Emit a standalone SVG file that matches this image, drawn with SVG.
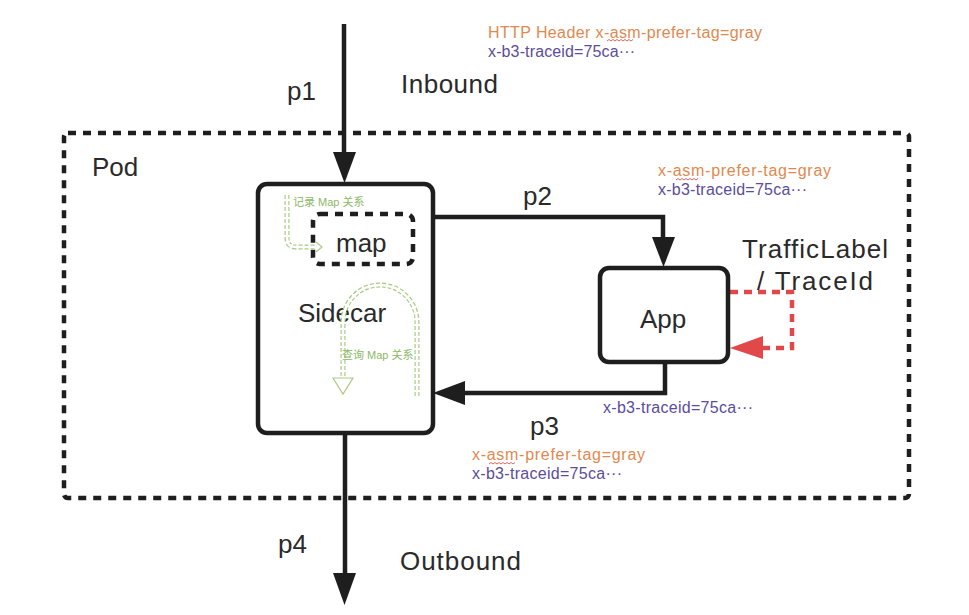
<svg xmlns="http://www.w3.org/2000/svg" width="969" height="615" viewBox="0 0 969 615">
<defs>
<style>
.lbl{font-family:"Liberation Sans","Noto Sans",Arial,sans-serif;font-size:26px;fill:#2a2a2a}
.sm{font-family:"Liberation Sans","Noto Sans",Arial,sans-serif;font-size:16px}
.or{fill:#e0894f}
.pu{fill:#5b4d9e}
.gt{font-family:"Liberation Sans","Noto Sans CJK SC",sans-serif;font-size:11px;fill:#8cb867}
.edge{fill:none;stroke:#1e1e1e;stroke-width:4.5}
.box{fill:#fff;stroke:#1e1e1e;stroke-width:4.5}
.dash{fill:none;stroke:#1e1e1e;stroke-width:4.5;stroke-dasharray:8 7}
.gout{fill:none;stroke:#a9cc86;stroke-width:5;stroke-dasharray:4 2}
.gin{fill:none;stroke:#fff;stroke-width:2.6}
.wavy{fill:none;stroke:#d9534f;stroke-width:0.9}
</style>
</defs>
<rect width="969" height="615" fill="#fff"/>
<g id="pod">
<rect x="64" y="133" width="845" height="365" rx="4" class="dash"/>
<text x="92" y="176" class="lbl">Pod</text>
</g>
<g id="connectors">
<g id="p1">
<line x1="344" y1="24" x2="344" y2="156" class="edge"/>
<polygon points="333,152 356,152 344.5,183" fill="#1e1e1e"/>
</g>
<g id="p2">
<polyline points="433,217 663,217 663,240" class="edge"/>
<polygon points="652,237 675,237 663.5,267" fill="#1e1e1e"/>
</g>
<g id="p3">
<polyline points="665,363 665,393 460,393" class="edge"/>
<polygon points="465,381 465,405 433,393" fill="#1e1e1e"/>
</g>
<g id="p4">
<line x1="345" y1="432" x2="345" y2="577" class="edge"/>
<polygon points="333,573 356,573 344.5,605" fill="#1e1e1e"/>
</g>
<g id="self-loop">
<polyline points="730,292 792,292 792,348 760,348" fill="none" stroke="#e0484a" stroke-width="4.5" stroke-dasharray="8 6"/>
<polygon points="763,336 763,359 730,348" fill="#e0484a"/>
</g>
</g>
<g id="sidecar">
<rect x="258" y="184" width="175" height="249" rx="9" class="box"/>
<text x="298" y="322" class="lbl">Sidecar</text>
</g>
<g id="map">
<rect x="313" y="214" width="100" height="50" rx="7" class="dash"/>
<text x="336" y="252" class="lbl">map</text>
</g>
<g id="app">
<rect x="600" y="268" width="128" height="94" rx="9" class="box"/>
<text x="640" y="328" class="lbl" font-size="27">App</text>
</g>
<g id="record">
<path d="M287,195 V238 Q287,247 296,247 H316" class="gout"/>
<path d="M287,195 V238 Q287,247 296,247 H316" class="gin"/>
<polyline points="316,242 322,247 316,252" fill="none" stroke="#a9cc86" stroke-width="1.2"/>
<text x="293" y="206" class="gt">记录 Map 关系</text>
</g>
<g id="query">
<path d="M417,396 V322 A37,37 0 0 0 343,322 V378" class="gout"/>
<path d="M417,396 V322 A37,37 0 0 0 343,322 V378" class="gin"/>
<polygon points="333,378 353,378 343,394" fill="#fff" stroke="#a9cc86" stroke-width="1.2"/>
<text x="342" y="359" class="gt">查询 Map 关系</text>
</g>
<g id="labels">
<text x="287" y="100" class="lbl">p1</text>
<text x="401" y="93" class="lbl" textLength="97">Inbound</text>
<text x="523" y="205" class="lbl">p2</text>
<text x="530" y="435" class="lbl">p3</text>
<text x="278" y="553" class="lbl">p4</text>
<text x="400" y="570" class="lbl" textLength="121">Outbound</text>
<text x="742" y="258" class="lbl" textLength="146">TrafficLabel</text>
<text x="757" y="290" class="lbl" textLength="116">/ TraceId</text>
</g>
<g id="headers">
<text x="488" y="38" class="sm or" textLength="274">HTTP Header x-asm-prefer-tag=gray</text>
<text x="488" y="57" class="sm pu" textLength="147">x-b3-traceid=75ca···</text>
<text x="658" y="176" class="sm or" textLength="173">x-asm-prefer-tag=gray</text>
<text x="658" y="195" class="sm pu" textLength="149">x-b3-traceid=75ca···</text>
<text x="603" y="413" class="sm pu" textLength="150">x-b3-traceid=75ca···</text>
<text x="472" y="460" class="sm or" textLength="173">x-asm-prefer-tag=gray</text>
<text x="472" y="479" class="sm pu" textLength="150">x-b3-traceid=75ca···</text>
<path d="M607,41 l2,-1.5 l2,1.5 l2,-1.5 l2,1.5 l2,-1.5 l2,1.5 l2,-1.5 l2,1.5 l2,-1.5 l2,1.5 l2,-1.5 l2,1.5 l2,-1.5" class="wavy"/>
<path d="M676,180 l2,-1.5 l2,1.5 l2,-1.5 l2,1.5 l2,-1.5 l2,1.5 l2,-1.5 l2,1.5 l2,-1.5 l2,1.5 l2,-1.5" class="wavy"/>
<path d="M489,464 l2,-1.5 l2,1.5 l2,-1.5 l2,1.5 l2,-1.5 l2,1.5 l2,-1.5 l2,1.5 l2,-1.5 l2,1.5 l2,-1.5 l2,1.5 l2,-1.5" class="wavy"/>
</g>
</svg>
